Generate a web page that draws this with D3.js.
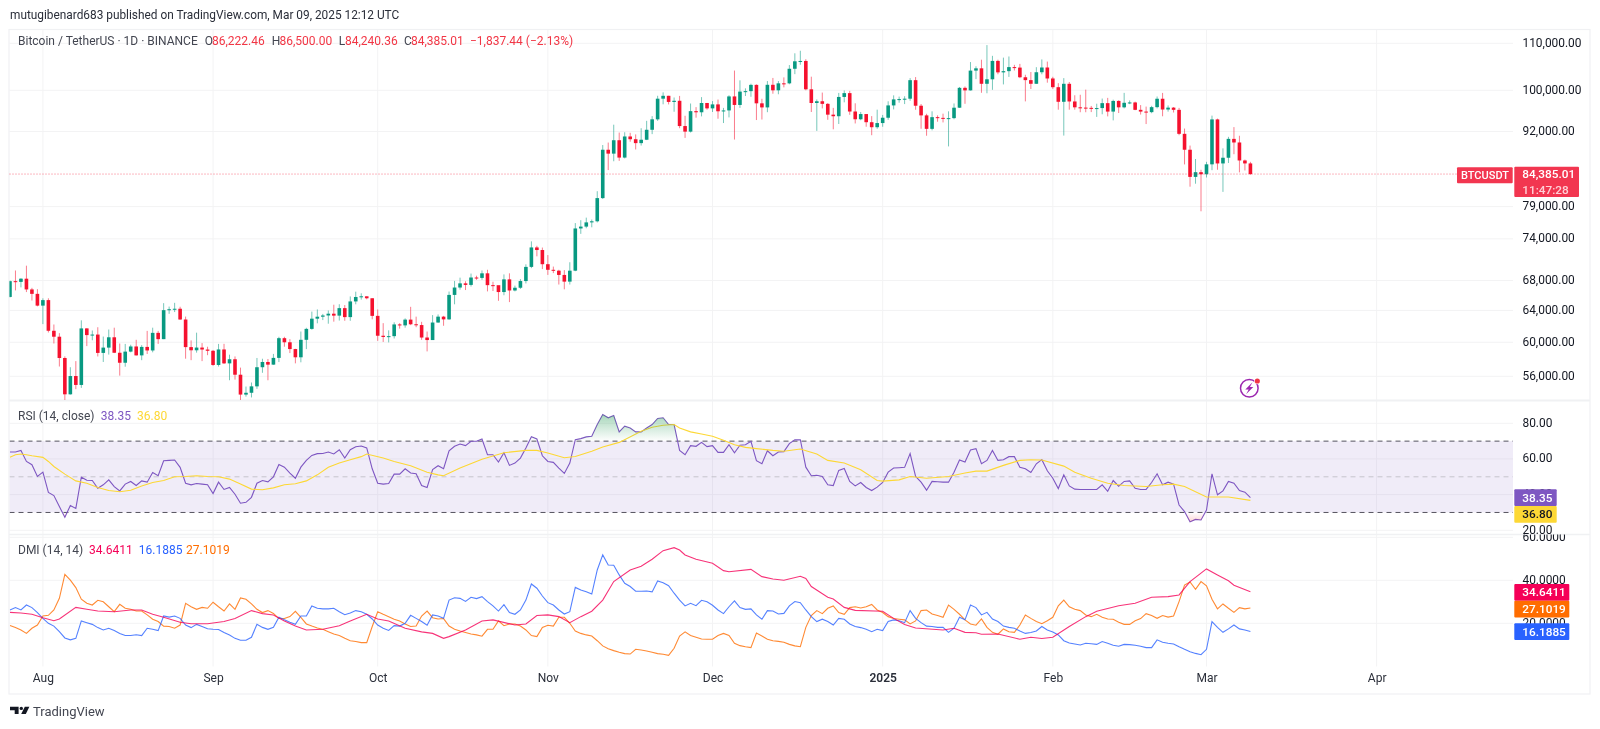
<!DOCTYPE html>
<html><head><meta charset="utf-8">
<script src="https://cdn.jsdelivr.net/npm/d3@7/dist/d3.min.js"></script>
<style>
html,body{margin:0;padding:0;background:#fff}
svg{display:block;filter:blur(.3px)}
text{font-family:Roboto,"Liberation Sans",sans-serif;fill:#131722}
</style></head><body><svg id="c" width="1600" height="729"></svg>
<script>
const firstDay = new Date(Date.UTC(2024,6,26));
const opens = [65777,67912,67813,68255,66784,66188,64628,65354,61415,60680,
58116,53991,56030,55027,61710,60880,60945,58719,59354,60609,
58739,57560,58874,59491,58427,59438,59013,61156,60381,64037,
64157,64220,62834,59415,59034,59359,59123,58973,57301,59132,
57487,57970,56180,53962,54160,54870,57040,57650,57340,58130,
60500,60000,59180,58200,60300,61650,62940,63192,63350,63578,
63330,64300,63140,65180,65770,65860,65600,63300,60800,60650,
60750,62210,62090,62820,62230,62130,60580,60270,62450,63200,
62850,66046,67041,67612,67399,68418,68362,69001,67367,67361,
66432,68161,66642,67014,67929,69907,72720,72340,70290,69496,
69374,68775,67850,69372,75571,75857,76509,76677,80370,88648,
87952,90375,87250,91066,90558,89845,90464,92310,94286,98317,
98892,97672,97900,93010,91965,95863,95643,97460,96407,97185,
95840,96002,98768,97075,99740,99831,101109,97395,96593,101125,
100000,101424,101420,104464,106058,106133,100204,97461,97805,97292,
95186,94881,98663,99430,95792,94299,95300,93738,92792,93576,
94591,96984,98174,98236,98314,102078,96922,95043,92484,94701,
94566,94488,94516,96534,100504,99987,104078,104556,101331,102260,
106143,103706,103960,104819,104714,102682,102087,101332,103733,104733,
102429,100635,97700,101328,97763,96612,96554,96506,96444,96462,
97430,95778,97870,96608,97500,97569,96118,95780,95671,96644,
98305,96181,96550,96118,91554,88648,83900,84705,84350,86064,
94270,86220,87222,90623,89963,86742,86222];
const highs = [68000,69399,68319,70079,66998,66817,65594,65596,62200,61117,
58305,57040,57750,62729,61744,61450,61855,60700,61570,61800,
59850,59800,59700,60300,59650,61400,61800,61400,64950,64500,
64995,64480,63210,60230,61180,59900,59460,59070,59800,59810,
58510,58300,56995,54850,55300,58120,58030,58000,58600,60670,
60670,60380,59210,61320,61790,63850,64130,63550,63990,64745,
64810,64700,65840,66480,66260,65850,65600,64130,62370,61470,
62480,62370,62980,64470,63200,62540,61320,63400,63480,63300,
66500,67950,68400,67900,68969,68668,69400,69500,67836,67200,
68850,69000,67300,68200,70270,73620,72960,72700,71600,69950,
69500,69450,70570,76400,76850,77250,76950,81500,89500,89950,
93265,91790,91850,91750,91450,92600,94000,94900,98900,99588,
98900,98550,98870,94970,97360,96650,98630,97480,97840,98150,
96500,99000,104088,102040,100400,101350,101215,98300,101890,102540,
101900,102650,105250,107790,108350,106500,102800,98170,99540,97450,
96500,99470,99970,99890,97400,95700,95200,94900,96150,95130,
97800,98980,98730,98800,102500,102720,97260,95350,95830,95050,
95380,95830,97370,100680,100780,105900,104990,106400,109600,107240,
106400,106850,107100,105300,105500,103200,103780,104800,106460,106000,
102780,101456,102500,101700,99000,99100,100137,96880,97320,98340,
98480,98119,98000,99480,97970,97730,97050,96750,96900,98750,
99475,96980,96670,96500,92540,89400,87000,85120,86500,95000,
94420,88900,91000,92810,91200,86900,86500];
const lows = [65700,66650,67066,66428,65302,64530,62248,61200,59850,57122,
49000,53960,54558,54700,59535,60240,58300,57650,58520,58700,
56078,57100,58785,58400,57860,58590,58790,59800,60381,63560,
63790,62800,58034,57860,58750,57750,58450,57200,57120,57415,
55555,55625,52550,53740,53650,54590,56400,55550,57320,57640,
59460,58700,57490,57610,59174,61550,62350,62760,62300,62560,
62700,62670,62670,64800,65420,65460,62860,60170,60040,59980,
60460,61680,61800,62120,61860,60300,58900,60400,62420,62040,
62800,64800,66750,66700,67177,68105,68100,66518,66571,65260,
66000,65090,66520,66850,67600,69730,71420,69600,68780,69030,
67450,66800,67450,69300,74750,75600,75750,76500,80220,85070,
86600,86670,87100,90100,88700,89400,90400,91500,94000,97200,
97180,95750,92600,90800,91800,94600,94850,96150,95700,94400,
93580,94660,90500,96500,98850,98700,94150,94250,95660,99310,
99200,100600,101230,103330,105320,100000,95700,92100,96400,94200,
92400,93400,97590,95150,93500,94120,92880,91300,92500,92870,
94200,96200,97520,97250,97900,96130,92500,91200,92200,93830,
93700,89250,94300,96500,97300,99950,102300,99500,99400,100100,
103300,101200,102750,104100,102500,97780,100270,101300,103300,101560,
100280,96150,91230,96150,96150,95650,95650,95680,94750,95256,
94850,94088,95500,96400,97230,96050,95205,93388,95460,96400,
94870,95770,95600,91300,86050,82250,82750,78250,83800,85050,
85120,81390,86300,87850,84670,85000,84240];
const closes = [67912,67813,68255,66784,66188,64628,65354,61415,60680,58116,
53991,56030,55027,61710,60880,60945,58719,59354,60609,58739,
57560,58874,59491,58427,59438,59013,61156,60381,64037,64157,
64220,62834,59415,59034,59359,59123,58973,57301,59132,57487,
57970,56180,53962,54160,54870,57040,57650,57340,58130,60500,
60000,59180,58200,60300,61650,62940,63192,63350,63578,63330,
64300,63140,65180,65770,65860,65600,63300,60800,60650,60750,
62210,62090,62820,62230,62130,60580,60270,62450,63200,62850,
66046,67041,67612,67399,68418,68362,69001,67367,67361,66432,
68161,66642,67014,67929,69907,72720,72340,70290,69496,69374,
68775,67850,69372,75571,75857,76509,76677,80370,88648,87952,
90375,87250,91066,90558,89845,90464,92310,94286,98317,98892,
97672,97900,93010,91965,95863,95643,97460,96407,97185,95840,
96002,98768,97075,99740,99831,101109,97395,96593,101125,100000,
101424,101420,104464,106058,106133,100204,97461,97805,97292,95186,
94881,98663,99430,95792,94299,95300,93738,92792,93576,94591,
96984,98174,98236,98314,102078,96922,95043,92484,94701,94566,
94488,94516,96534,100504,99987,104078,104556,101331,102260,106143,
103706,103960,104819,104714,102682,102087,101332,103733,104733,102429,
100635,97700,101328,97763,96612,96554,96506,96444,96462,97430,
95778,97870,96608,97500,97569,96118,95780,95671,96644,98305,
96181,96550,96118,91554,88648,83900,84705,84350,86064,94270,
86220,87222,90623,89963,86742,86222,84385];
const rsi = [63.9,63.9,64.8,58.6,56.8,50.2,52.6,41.2,39.5,33.3,
27.3,33.9,32.3,49.8,48.1,47.9,43.6,45.5,48.3,44.5,
42.1,45.9,47.4,45.1,47.7,47.0,52.4,50.6,59.0,59.2,
59.4,55.3,46.4,45.5,46.2,45.9,45.5,40.6,47.0,42.9,
44.0,40.2,35.2,35.7,38.5,46.4,47.9,47.2,50.0,56.9,
55.4,52.1,49.2,55.4,59.2,62.0,63.0,63.1,63.9,62.8,
65.2,60.5,65.2,66.9,67.3,66.2,54.5,46.4,45.9,46.2,
51.5,51.5,54.5,52.1,51.7,45.1,44.0,54.0,56.2,54.5,
64.6,67.1,68.4,67.5,69.9,69.9,71.2,62.4,62.4,58.3,
63.5,56.4,57.7,60.5,66.2,72.5,71.2,61.8,58.6,58.1,
54.9,51.9,57.7,70.8,71.4,72.4,72.7,79.3,84.9,83.1,
84.4,75.2,78.4,77.4,75.2,75.2,77.4,79.3,82.7,83.1,
79.3,79.3,64.8,62.4,67.5,67.1,69.3,66.9,67.5,63.7,
63.7,68.0,63.5,67.7,68.0,69.9,59.0,57.3,64.6,61.8,
63.9,64.1,68.6,70.7,70.8,55.4,50.6,50.9,50.2,45.5,
45.1,53.6,54.7,47.4,44.9,46.8,44.0,42.3,44.2,46.8,
52.6,54.9,55.1,55.3,63.0,50.2,47.0,42.5,47.4,47.2,
47.0,47.0,52.6,59.4,58.3,65.0,65.8,57.3,59.2,64.8,
59.2,59.6,61.3,61.3,55.4,54.5,52.4,57.3,59.6,53.4,
49.2,43.4,51.1,44.9,43.1,42.9,42.9,42.9,42.9,45.5,
41.9,47.9,44.7,47.4,47.7,43.6,42.9,42.9,46.8,51.7,
45.5,47.0,45.9,34.2,30.5,24.8,26.1,25.8,31.4,51.7,
39.9,42.1,47.4,46.4,42.3,41.4,38.35];
const rsiMaDays = [0,1,2,3,4,6,7,8,10,12,14,16,18,20,22,24,26,28,30,32,34,36,38,40,42,44,46,48,50,52,54,56,58,60,62,64,65,68,70,73,76,78,79,82,86,90,94,96,98,101,103,106,108,111,115,117,119,121,122,124,126,128,130,132,134,136,139,141,144,147,149,152,155,158,159,162,164,167,171,174,176,178,181,184,186,188,192,194,197,200,203,207,210,212,214,218,222,226];
const rsiMa = [60.9,62.4,62.8,62.4,61.8,60.9,58.6,55.8,51.5,47.7,46.4,44.0,42.3,41.6,42.5,44.9,46.8,47.9,50.0,50.2,50.6,50.2,50.0,48.7,45.9,43.1,42.7,43.8,45.5,46.1,47.7,51.1,55.3,57.7,59.6,61.3,62.8,60.5,58.6,56.2,52.6,51.1,50.6,54.9,59.8,63.5,64.8,64.8,63.3,60.7,61.4,64.3,66.7,69.3,75.5,77.8,78.9,79.3,77.4,75.2,74.0,72.7,70.5,68.0,66.5,65.8,64.8,64.3,65.6,62.8,59.2,57.7,54.0,47.9,47.6,48.3,50.2,49.2,50.2,52.1,53.2,53.2,56.4,59.2,59.6,59.4,56.0,52.6,49.2,46.4,45.1,44.6,45.5,45.9,44.6,38.7,38.7,36.8];
const diPlus = [26.2,27.3,26.2,28.5,27.3,25.0,22.3,20.0,18.7,16.1,
13.2,12.3,13.0,21.1,20.3,19.5,18.0,16.9,17.7,16.6,
15.3,14.3,14.3,14.7,14.3,17.7,17.2,16.6,23.4,22.9,
23.4,22.3,19.2,18.0,19.5,18.5,17.5,17.2,17.1,15.7,
14.6,13.0,12.1,12.1,13.5,19.5,18.1,17.2,18.1,22.8,
21.6,20.5,19.5,23.4,23.4,28.1,27.0,26.7,26.7,27.0,
25.4,24.0,24.8,25.9,25.4,24.2,22.0,19.2,17.7,16.7,
18.9,18.7,20.0,23.7,22.3,20.8,19.1,23.9,23.4,22.3,
30.8,31.9,31.6,30.2,32.1,31.5,32.4,30.1,28.1,25.7,
28.7,25.0,24.2,26.2,30.8,38.3,36.3,32.7,29.6,28.5,
26.2,24.3,25.4,36.7,35.5,34.7,33.6,44.8,51.8,47.1,
47.0,42.5,38.6,37.1,34.9,34.9,35.0,34.6,39.7,38.9,
37.5,34.0,30.8,28.1,29.3,28.2,30.7,30.0,28.4,26.2,
24.5,27.7,30.4,27.3,26.5,26.7,23.9,21.9,25.9,25.7,
24.3,24.6,28.1,30.1,29.6,26.2,23.1,20.8,21.9,20.8,
19.2,22.3,21.9,19.7,18.5,18.0,17.2,16.1,17.2,16.6,
20.8,21.6,21.2,20.3,25.9,22.3,20.3,18.7,18.5,18.1,
18.1,15.8,17.7,22.8,21.6,28.5,27.3,23.9,25.1,22.0,
20.8,18.7,18.1,17.7,16.4,15.3,15.7,16.4,18.5,16.9,
16.0,14.6,11.9,10.8,10.4,9.9,10.7,10.5,10.2,11.5,
10.7,9.8,9.3,10.2,10.1,9.8,9.3,8.7,8.7,12.3,
11.2,10.7,10.4,9.1,7.9,6.8,6.0,5.4,7.9,20.8,
18.1,15.8,17.4,19.2,17.4,16.9,16.19];
const diMinus = [19.0,18.0,16.9,15.3,17.7,19.2,23.4,23.7,26.2,31.6,
42.8,40.1,36.6,31.2,29.3,28.5,30.7,30.0,27.7,25.4,
28.8,27.0,26.5,25.7,25.7,23.9,21.9,20.8,18.7,18.5,
17.7,19.2,29.3,27.7,26.5,27.4,27.0,29.8,27.7,25.7,
29.0,26.5,31.8,31.2,29.0,26.5,25.0,25.9,24.6,22.2,
22.2,23.1,25.6,22.8,19.7,18.7,17.8,17.2,16.1,15.0,
14.3,13.0,11.9,11.5,11.0,11.0,18.5,25.4,24.2,23.1,
21.9,21.1,19.7,18.5,18.7,23.4,25.7,22.6,22.0,22.2,
18.7,17.2,16.4,15.7,15.0,14.6,14.0,17.2,17.2,21.1,
18.9,19.7,19.7,18.7,16.9,14.3,13.8,18.1,19.1,18.7,
22.8,22.8,20.0,16.4,15.3,14.6,14.1,11.9,9.5,8.2,
7.3,6.5,5.9,5.7,7.9,7.6,7.1,6.5,5.9,5.6,
5.1,8.4,14.1,16.0,14.3,13.5,12.7,12.6,12.6,14.3,
15.3,14.3,10.7,9.6,9.1,8.7,15.5,14.1,12.6,11.9,
11.6,11.2,10.2,9.5,9.1,18.1,23.6,25.9,24.5,27.0,
28.1,25.0,24.2,27.3,27.7,27.1,27.7,28.8,26.2,25.0,
23.1,22.2,21.9,21.6,19.7,21.1,25.9,26.2,24.3,23.6,
22.8,28.5,26.5,24.2,21.6,19.7,19.1,22.0,18.1,15.8,
14.9,17.4,16.1,15.8,19.2,23.9,22.3,20.8,19.8,21.2,
22.8,28.1,30.8,27.7,26.5,25.9,23.9,23.1,24.2,22.8,
22.0,21.9,20.5,19.5,19.5,21.2,22.2,24.5,23.6,22.3,
23.6,22.9,23.4,30.1,37.8,39.2,35.8,39.4,37.4,31.2,
26.7,29.0,27.0,25.1,27.3,26.7,27.10];
const adxDays = [0,2,4,6,8,9,12,14,16,19,22,24,26,28,31,33,36,39,41,44,46,48,50,52,54,57,60,62,65,67,69,72,75,77,79,80,83,86,88,92,94,96,98,100,102,104,106,108,110,113,115,117,119,121,122,123,125,128,130,131,135,137,139,141,144,145,146,149,150,152,154,159,161,163,165,170,172,174,176,177,180,184,186,188,190,193,196,198,202,205,208,211,213,215,218,220,222,223,226];
const adx = [25.1,24.8,24.2,22.6,21.2,22.0,27.4,26.5,25.7,25.4,26.2,26.2,24.2,22.8,20.5,19.8,19.8,20.8,22.2,25.9,24.5,23.9,21.1,18.7,16.9,17.2,18.9,21.1,24.2,22.0,21.1,17.7,16.0,15.3,13.0,13.8,16.9,21.1,21.6,19.2,19.7,23.6,23.9,23.1,20.3,23.1,25.6,30.8,39.4,44.8,46.5,49.8,53.8,55.2,54.1,51.8,49.8,47.9,44.5,44.0,45.1,41.7,40.6,40.0,41.9,40.9,37.1,32.1,31.3,27.4,26.0,25.6,22.3,19.4,17.8,16.9,17.7,15.8,15.6,14.9,15.0,12.6,13.5,12.9,13.5,18.5,23.1,25.6,28.2,29.3,32.1,32.4,33.2,39.4,45.3,42.5,39.8,37.7,34.64];
const monthStarts = [[2024,7,"Aug"],[2024,8,"Sep"],[2024,9,"Oct"],[2024,10,"Nov"],[2024,11,"Dec"],[2025,0,"2025"],[2025,1,"Feb"],[2025,2,"Mar"],[2025,3,"Apr"]];
const priceTicks = [110000,100000,92000,79000,74000,68000,64000,60000,56000];
const rsiTicks = [80,60,40,20];
const dmiTicks = [60,40,20];

const UP="#089981",DOWN="#F5112E",GRID="#f3f3f4",INK="#131722";
const PL=9.5,AX=1513,RE=1590;
const days = closes.map((_,i)=>d3.utcDay.offset(firstDay,i));
const x = d3.scaleUtc().domain([Date.UTC(2024,7,1),Date.UTC(2025,2,1)]).range([42.9,1206.5]);
const y = d3.scaleLog().domain([110000,56000]).range([43.3,376.3]);
const yR = d3.scaleLinear().domain([80,20]).range([423.3,530.3]);
const yD = d3.scaleLinear().domain([60,20]).range([537.3,623.3]);
const svg = d3.select("#c");
const defs = svg.append("defs");
const clip=(id,a,b,r)=>defs.append("clipPath").attr("id",id).append("rect").attr("x",a).attr("y",b).attr("width",r[0]).attr("height",r[1]);
clip("cMain",PL,30,[AX-PL,370]);
clip("cRsi",PL,401,[AX-PL,132]);
clip("cDmi",PL,535,[AX-PL,132]);
clip("cDmiAx",AX,534.5,[80,132]);
clip("cAbove",PL,401,[AX-PL,yR(70)-401]);
clip("cBelow",PL,yR(30),[AX-PL,530-yR(30)]);
const g1=defs.append("linearGradient").attr("id","gUp").attr("gradientUnits","userSpaceOnUse").attr("x1",0).attr("x2",0).attr("y1",yR(85)).attr("y2",yR(70));
g1.append("stop").attr("offset","0").attr("stop-color","#2e9e5b").attr("stop-opacity",.42);
g1.append("stop").attr("offset","1").attr("stop-color","#2e9e5b").attr("stop-opacity",0);
const g2=defs.append("linearGradient").attr("id","gDn").attr("gradientUnits","userSpaceOnUse").attr("x1",0).attr("x2",0).attr("y1",yR(30)).attr("y2",yR(24));
g2.append("stop").attr("offset","0").attr("stop-color","#F23645").attr("stop-opacity",0);
g2.append("stop").attr("offset","1").attr("stop-color","#F23645").attr("stop-opacity",.25);

svg.append("text").attr("x",10).attr("y",15).attr("dy",".35em").style("font-size","11.85px").style("fill","#2a2e39").text("mutugibenard683 published on TradingView.com, Mar 09, 2025 12:12 UTC");

// grid
const grid=svg.append("g").attr("stroke",GRID).attr("stroke-width",1);
const months=monthStarts.map(m=>new Date(Date.UTC(m[0],m[1],1)));
months.forEach(d=>grid.append("line").attr("x1",x(d)).attr("x2",x(d)).attr("y1",30).attr("y2",666.5));
priceTicks.forEach(v=>grid.append("line").attr("x1",PL).attr("x2",AX).attr("y1",y(v)).attr("y2",y(v)));
rsiTicks.forEach(v=>grid.append("line").attr("x1",PL).attr("x2",AX).attr("y1",yR(v)).attr("y2",yR(v)));
dmiTicks.forEach(v=>grid.append("line").attr("x1",PL).attr("x2",AX).attr("y1",yD(v)).attr("y2",yD(v)));

// frame
const frame=svg.append("g").attr("fill","none").attr("stroke","#f0f1f3");
frame.append("rect").attr("x",9).attr("y",29.5).attr("width",RE-9).attr("height",664.5).attr("stroke-width",1.2);
frame.append("line").attr("x1",9).attr("x2",RE).attr("y1",400.5).attr("y2",400.5).attr("stroke-width",2);
frame.append("line").attr("x1",9).attr("x2",RE).attr("y1",534.5).attr("y2",534.5).attr("stroke-width",1.5);

// candles
const cand=svg.append("g").attr("clip-path","url(#cMain)");
const ci=d3.range(closes.length);
cand.selectAll(".w").data(ci).join("line").attr("x1",i=>x(days[i])).attr("x2",i=>x(days[i]))
 .attr("y1",i=>y(highs[i])).attr("y2",i=>y(lows[i]))
 .attr("stroke",i=>closes[i]>=opens[i]?UP:DOWN).attr("stroke-width",1).attr("stroke-opacity",.55);
cand.selectAll(".b").data(ci).join("rect").attr("x",i=>x(days[i])-1.8).attr("width",3.6)
 .attr("y",i=>y(Math.max(opens[i],closes[i])))
 .attr("height",i=>Math.max(1,Math.abs(y(opens[i])-y(closes[i]))))
 .attr("fill",i=>closes[i]>=opens[i]?UP:DOWN);

// last price line
svg.append("line").attr("x1",PL).attr("x2",1457).attr("y1",y(84385.01)).attr("y2",y(84385.01))
 .attr("stroke",DOWN).attr("stroke-opacity",.6).attr("stroke-width",1).attr("stroke-dasharray","1 2");

// RSI
const rsiG=svg.append("g").attr("clip-path","url(#cRsi)");
rsiG.append("rect").attr("x",PL).attr("width",AX-PL).attr("y",yR(70)).attr("height",yR(30)-yR(70)).attr("fill","#7E57C2").attr("fill-opacity",.115);
[70,50,30].forEach(v=>rsiG.append("line").attr("x1",PL).attr("x2",AX).attr("y1",yR(v)).attr("y2",yR(v))
 .attr("stroke",v===50?"#c5c3cc":"#55535f").attr("stroke-width",1).attr("stroke-dasharray","5 4"));
const lineR=d3.line().x((v,i)=>x(days[i])).y(v=>yR(v));
const areaHi=d3.area().x((v,i)=>x(days[i])).y0(yR(70)).y1(v=>yR(v));
const areaLo=d3.area().x((v,i)=>x(days[i])).y0(yR(30)).y1(v=>yR(v));
svg.append("g").attr("clip-path","url(#cAbove)").append("path").attr("d",areaHi(rsi)).attr("fill","url(#gUp)");
svg.append("g").attr("clip-path","url(#cBelow)").append("path").attr("d",areaLo(rsi)).attr("fill","url(#gDn)");
rsiG.append("path").attr("d",lineR(rsi)).attr("fill","none").attr("stroke","#7E57C2").attr("stroke-width",1.1);
rsiG.append("path").attr("d",d3.line().x((v,i)=>x(days[rsiMaDays[i]])).y(v=>yR(v))(rsiMa)).attr("fill","none").attr("stroke","#FDD835").attr("stroke-width",1.1);

// DMI
const dmiG=svg.append("g").attr("clip-path","url(#cDmi)");
const lineD=d3.line().x((v,i)=>x(days[i])).y(v=>yD(v));
dmiG.append("path").attr("d",lineD(diMinus)).attr("fill","none").attr("stroke","#FF6D00").attr("stroke-width",1.1).attr("stroke-opacity",.8);
dmiG.append("path").attr("d",lineD(diPlus)).attr("fill","none").attr("stroke","#2962FF").attr("stroke-width",1.1).attr("stroke-opacity",.8);
dmiG.append("path").attr("d",d3.line().x((v,i)=>x(days[adxDays[i]])).y(v=>yD(v))(adx)).attr("fill","none").attr("stroke","#F50057").attr("stroke-width",1.1).attr("stroke-opacity",.8);

// axes
const styleAxis=(g)=>{g.select(".domain").remove();g.selectAll("text").style("font-size","11.9px").style("fill",INK).attr("dy",".28em");};
const fmtP=d3.format(",.2f"),fmtR=d3.format(".2f"),fmtD=d3.format(".4f");
svg.append("g").attr("transform",`translate(${AX},0)`).call(d3.axisRight(y).offset(0).tickValues(priceTicks).tickSize(0).tickPadding(9.5).tickFormat(fmtP)).call(styleAxis);
svg.append("g").attr("transform",`translate(${AX},0)`).call(d3.axisRight(yR).offset(0).tickValues(rsiTicks).tickSize(0).tickPadding(9.5).tickFormat(fmtR)).call(styleAxis);
svg.append("g").attr("clip-path","url(#cDmiAx)").append("g").attr("transform",`translate(${AX},0)`).call(d3.axisRight(yD).offset(0).tickValues(dmiTicks).tickSize(0).tickPadding(9.5).tickFormat(fmtD)).call(styleAxis);
const tAxis=svg.append("g").attr("transform","translate(0,669)").call(d3.axisBottom(x).tickValues(months).tickSize(0).tickPadding(4).tickFormat((d,i)=>monthStarts[i][2]));
tAxis.select(".domain").remove();
tAxis.selectAll("text").style("font-size","12px").style("fill","#2a2e39").style("font-weight",(d,i)=>monthStarts[i][2]==="2025"?"600":"400");

// value tags
function tag(x0,y0,w,h,fill,lines,color,tx,sz){
 svg.append("rect").attr("x",x0).attr("y",y0).attr("width",w).attr("height",h).attr("fill",fill).attr("rx",1);
 lines.forEach((l,i)=>svg.append("text").attr("x",tx||x0+8).attr("y",y0+h*(i+.5)/lines.length).attr("dy",".35em")
  .style("font-size",(sz||11.8)+"px").style("font-weight",l.w||500).style("fill",l.c||color).text(l.t));
}
tag(1457,167.3,55.7,16,"#F23650",[{t:"BTCUSDT"}],"#fff",1461,11);
tag(1514.3,166.7,64.7,30.3,"#F23650",[{t:"84,385.01"},{t:"11:47:28",c:"#ffd0d6"}],"#fff");
tag(1514.3,489.3,42.4,16.7,"#7E57C2",[{t:"38.35"}],"#fff");
tag(1514.3,506,42.4,16.7,"#FDD835",[{t:"36.80"}],INK);
tag(1514.3,584,55,16.7,"#F50057",[{t:"34.6411"}],"#fff");
tag(1514.3,600.7,55,16.7,"#FF6D00",[{t:"27.1019"}],"#fff");
tag(1514.3,623.3,55,16.7,"#2962FF",[{t:"16.1885"}],"#fff");

// legends
function leg(px,py,t,c,sz){svg.append("text").attr("x",px).attr("y",py).attr("dy",".35em").style("font-size",(sz||12)+"px").style("fill",c).text(t);}
const RED="#F23645";
leg(18,41,"Bitcoin / TetherUS · 1D · BINANCE","#434651");
leg(204.7,41,"O","#434651");leg(212,41,"86,222.46",RED);
leg(271.7,41,"H","#434651");leg(279.4,41,"86,500.00",RED);
leg(338.7,41,"L","#434651");leg(345,41,"84,240.36",RED);
leg(404,41,"C","#434651");leg(411,41,"84,385.01",RED);
leg(470,41,"−1,837.44 (−2.13%)",RED);
leg(18,416,"RSI (14, close)","#434651");leg(100.8,416,"38.35","#7E57C2");leg(137,416,"36.80","#FDD835");
leg(18,549.3,"DMI (14, 14)","#434651");leg(89,549.3,"34.6411","#F50057");leg(138.8,549.3,"16.1885","#2962FF");leg(186,549.3,"27.1019","#FF6D00");

// replay icon
const ic=svg.append("g").attr("transform","translate(1249.3,388.3)");
ic.append("circle").attr("r",8.8).attr("fill","none").attr("stroke","#9C27B0").attr("stroke-width",1.5);
ic.append("path").attr("d","M3.2,-6 L-4,1.2 L-0.6,1.2 L-3.2,6 L4,-1.2 L0.6,-1.2 Z").attr("fill","#9C27B0");
ic.append("circle").attr("cx",8).attr("cy",-7.3).attr("r",3.3).attr("fill","#fff");
ic.append("circle").attr("cx",8).attr("cy",-7.3).attr("r",2.6).attr("fill","#F23645");

// footer logo
const lg=svg.append("g").attr("fill","#131722");
lg.append("path").attr("d","M10,706.7 H18.6 V714 H14.7 V710.2 H10 Z");
lg.append("circle").attr("cx",21.3).attr("cy",708.4).attr("r",1.7);
lg.append("path").attr("d","M24.8,706.7 H29.4 L25.8,714 H21.2 Z");
svg.append("text").attr("x",33).attr("y",711.6).attr("dy",".35em").style("font-size","13px").style("fill","#434651").text("TradingView");
</script></body></html>
